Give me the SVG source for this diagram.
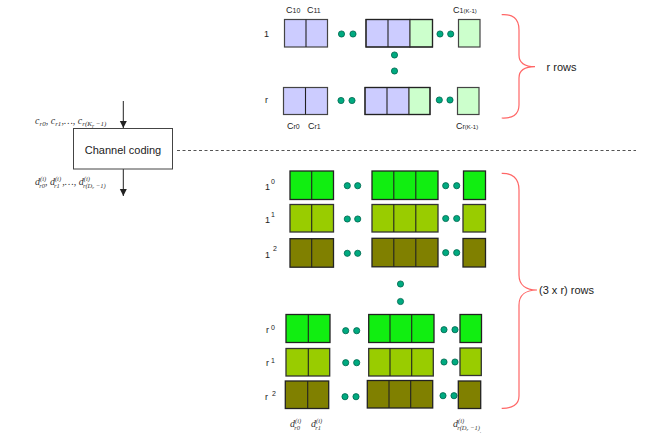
<svg xmlns="http://www.w3.org/2000/svg" width="652" height="443" viewBox="0 0 652 443">
<defs>
<style>
.lav{fill:#CCCCFF;stroke:#444;stroke-width:1.2}
.lg{fill:#CCFFCC;stroke:#444;stroke-width:1.2}
.g0{fill:#11EE11;stroke:#222;stroke-width:1.3}
.g1{fill:#99CC00;stroke:#333;stroke-width:1.3}
.g2{fill:#808000;stroke:#222;stroke-width:1.3}
.div{stroke:#222;stroke-width:1.1}
.dot{fill:#00AA80;stroke:#00664D;stroke-width:0.8}
.lbl{font-family:"Liberation Sans",Arial,sans-serif;font-size:9px;fill:#222}
.math{font-family:"Liberation Serif","Times New Roman",serif;font-style:italic;font-size:10px;fill:#333}
.brace{fill:none;stroke:#FF6666;stroke-width:1.2}
.txt{font-family:"Liberation Sans",Arial,sans-serif;font-size:11px;fill:#222}
.conn{stroke:#222;stroke-width:1;fill:none}
</style>
<marker id="ah" markerWidth="8" markerHeight="8" refX="7" refY="4" orient="auto" markerUnits="userSpaceOnUse">
<path d="M0,0.5 L7,4 L0,7.5 Z" fill="#222"/>
</marker>
<circle id="d" r="3.1" class="dot"/>
</defs>
<rect width="652" height="443" fill="#fff"/>

<g id="connectors">
<line class="conn" x1="123.3" y1="101" x2="123.3" y2="128" marker-end="url(#ah)"/>
<line class="conn" x1="123.3" y1="169" x2="123.3" y2="196" marker-end="url(#ah)"/>
<line x1="177" y1="150.5" x2="636" y2="150.5" stroke="#555" stroke-width="1" stroke-dasharray="3,2.5"/>
</g>

<g id="channel-coding">
<rect x="73.5" y="128.5" width="99" height="40.5" fill="#fff" stroke="#444" stroke-width="1"/>
<text class="txt" x="123" y="154" text-anchor="middle">Channel coding</text>
</g>

<g id="input-label">
<text class="math" x="35" y="124">c<tspan font-size="7" dy="2">r0</tspan><tspan dy="-2">, c</tspan><tspan font-size="7" dy="2">r1</tspan><tspan dy="-2">,…, c</tspan><tspan font-size="7" dy="2">r(K</tspan><tspan font-size="5.5" dy="1.5">r</tspan><tspan font-size="7" dy="-1.5"> −1)</tspan></text>
</g>

<g id="output-label">
<text class="math" x="35" y="185">d<tspan font-size="6.5" dy="-4.5">(i)</tspan><tspan font-size="6.5" dx="-7" dy="7">r0</tspan><tspan dy="-2.5">, d</tspan><tspan font-size="6.5" dy="-4.5">(i)</tspan><tspan font-size="6.5" dx="-7" dy="7">r1</tspan><tspan dy="-2.5"> ,…, d</tspan><tspan font-size="6.5" dy="-4.5">(i)</tspan><tspan font-size="6.5" dx="-7" dy="7">r(D</tspan><tspan font-size="5" dy="1">r</tspan><tspan font-size="6.5" dy="-1"> −1)</tspan></text>
</g>

<!-- Top section -->
<g id="row-1">
<text class="lbl" x="264" y="37" font-size="8">1</text>
<text class="lbl" x="286" y="13">C<tspan font-size="7">10</tspan></text>
<text class="lbl" x="307" y="13">C<tspan font-size="7">11</tspan></text>
<text class="lbl" x="453" y="13">C<tspan font-size="7">1</tspan><tspan font-size="6">(K-1)</tspan></text>
<rect class="lav" x="284.5" y="19.5" width="43" height="27.5"/>
<line class="div" x1="306" y1="19.5" x2="306" y2="47"/>
<use href="#d" x="341.5" y="34"/><use href="#d" x="353" y="34"/>
<rect class="lav" x="366" y="19.5" width="44" height="27.5"/>
<line class="div" x1="388" y1="19.5" x2="388" y2="47"/>
<rect class="lg" x="410" y="19.5" width="22.5" height="27.5"/>
<rect x="366" y="19.5" width="66.5" height="27.5" fill="none" stroke="#222" stroke-width="1.2"/>
<use href="#d" x="440" y="34"/><use href="#d" x="450.7" y="34"/>
<rect class="lg" x="458.5" y="19.5" width="21.5" height="27.5"/>
</g>

<g id="vdots-top">
<use href="#d" x="394.5" y="55"/><use href="#d" x="394.5" y="71"/>
</g>

<g id="row-r">
<text class="lbl" x="265" y="103" font-size="8">r</text>
<rect class="lav" x="283.5" y="87.5" width="44" height="27"/>
<line class="div" x1="305.5" y1="87.5" x2="305.5" y2="114.5"/>
<use href="#d" x="341" y="100.5"/><use href="#d" x="352" y="100.5"/>
<rect class="lav" x="365" y="87.5" width="44" height="27"/>
<line class="div" x1="387" y1="87.5" x2="387" y2="114.5"/>
<rect class="lg" x="409" y="87.5" width="21" height="27"/>
<rect x="365" y="87.5" width="65" height="27" fill="none" stroke="#222" stroke-width="1.2"/>
<use href="#d" x="439.3" y="100"/><use href="#d" x="450" y="100"/>
<rect class="lg" x="457.5" y="87.5" width="21.5" height="27"/>
<text class="lbl" x="287" y="129">C<tspan font-size="7">r0</tspan></text>
<text class="lbl" x="308" y="129">C<tspan font-size="7">r1</tspan></text>
<text class="lbl" x="456" y="129">C<tspan font-size="7">r</tspan><tspan font-size="6">(K-1)</tspan></text>
</g>

<g id="brace-r-rows">
<path class="brace" d="M501.7,14.7 C512,14 519,18 519,30 L519,55 C519,63 525,66.7 535,66.7 C525,66.7 519,70 519,78 L519,105 C519,115 512,118.5 501.7,118"/>
<text class="txt" x="546.5" y="71">r rows</text>
</g>

<!-- Bottom section -->
<g id="row-1-0">
<text class="lbl" x="265" y="190" font-size="8">1<tspan font-size="7" dy="-6" dx="1">0</tspan></text>
<rect class="g0" x="290" y="171" width="43.5" height="28.5"/>
<line class="div" x1="311.7" y1="171" x2="311.7" y2="199.5"/>
<use href="#d" x="347.3" y="185.7"/><use href="#d" x="357.7" y="185.7"/>
<rect class="g0" x="372" y="171" width="66" height="28.5"/>
<line class="div" x1="393.8" y1="171" x2="393.8" y2="199.5"/>
<line class="div" x1="415.8" y1="171" x2="415.8" y2="199.5"/>
<use href="#d" x="445.7" y="185.7"/><use href="#d" x="456.7" y="185.7"/>
<rect class="g0" x="463.5" y="171" width="22" height="28.5"/>
</g>

<g id="row-1-1">
<text class="lbl" x="265" y="223" font-size="8">1<tspan font-size="7" dy="-6" dx="1">1</tspan></text>
<rect class="g1" x="290" y="204.5" width="43.5" height="27.5"/>
<line class="div" x1="311.7" y1="204.5" x2="311.7" y2="232"/>
<use href="#d" x="347.3" y="219"/><use href="#d" x="357.7" y="219"/>
<rect class="g1" x="372" y="204.5" width="66" height="27.5"/>
<line class="div" x1="393.8" y1="204.5" x2="393.8" y2="232"/>
<line class="div" x1="415.8" y1="204.5" x2="415.8" y2="232"/>
<use href="#d" x="445.7" y="218.5"/><use href="#d" x="456.7" y="218.5"/>
<rect class="g1" x="463" y="204.5" width="22.5" height="27.5"/>
</g>

<g id="row-1-2">
<text class="lbl" x="265" y="258" font-size="8">1<tspan font-size="7" dy="-7" dx="3">2</tspan></text>
<rect class="g2" x="290" y="238.7" width="43.5" height="28.5"/>
<line class="div" x1="311.7" y1="238.7" x2="311.7" y2="267.2"/>
<use href="#d" x="347.3" y="253.3"/><use href="#d" x="357.7" y="253.3"/>
<rect class="g2" x="372" y="238.3" width="66" height="28.5"/>
<line class="div" x1="393.8" y1="238.3" x2="393.8" y2="266.8"/>
<line class="div" x1="415.8" y1="238.3" x2="415.8" y2="266.8"/>
<use href="#d" x="445.7" y="252.7"/><use href="#d" x="456.7" y="252.7"/>
<rect class="g2" x="463" y="238.5" width="22.5" height="28.5"/>
</g>

<g id="vdots-bottom">
<use href="#d" x="400.5" y="284"/><use href="#d" x="400.5" y="301.5"/>
</g>

<g id="row-r-0">
<text class="lbl" x="266" y="333" font-size="8">r<tspan font-size="7" dy="-3" dx="2">0</tspan></text>
<rect class="g0" x="286" y="314.5" width="44" height="28"/>
<line class="div" x1="308.3" y1="314.5" x2="308.3" y2="342.5"/>
<use href="#d" x="345.7" y="330.7"/><use href="#d" x="356.7" y="330.7"/>
<rect class="g0" x="368.7" y="314.5" width="65.3" height="28"/>
<line class="div" x1="390" y1="314.5" x2="390" y2="342.5"/>
<line class="div" x1="411.7" y1="314.5" x2="411.7" y2="342.5"/>
<use href="#d" x="444" y="329.7"/><use href="#d" x="455" y="329.7"/>
<rect class="g0" x="460" y="314.5" width="21.5" height="28"/>
</g>

<g id="row-r-1">
<text class="lbl" x="266" y="366" font-size="8">r<tspan font-size="7" dy="-3" dx="2">1</tspan></text>
<rect class="g1" x="286" y="348.5" width="43.7" height="27.5"/>
<line class="div" x1="308.3" y1="348.5" x2="308.3" y2="376"/>
<use href="#d" x="345.7" y="362.7"/><use href="#d" x="356.7" y="362.7"/>
<rect class="g1" x="368.7" y="348.5" width="64.6" height="27.5"/>
<line class="div" x1="390" y1="348.5" x2="390" y2="376"/>
<line class="div" x1="411.7" y1="348.5" x2="411.7" y2="376"/>
<use href="#d" x="444" y="362"/><use href="#d" x="455" y="362"/>
<rect class="g1" x="460" y="348" width="21.3" height="27.5"/>
</g>

<g id="row-r-2">
<text class="lbl" x="265" y="400" font-size="8">r<tspan font-size="7" dy="-4" dx="4">2</tspan></text>
<rect class="g2" x="285.3" y="381" width="43.4" height="27.5"/>
<line class="div" x1="307.7" y1="381" x2="307.7" y2="408.5"/>
<use href="#d" x="345" y="396.7"/><use href="#d" x="356" y="396.7"/>
<rect class="g2" x="367.3" y="380.5" width="65.4" height="27.5"/>
<line class="div" x1="389" y1="380.5" x2="389" y2="408"/>
<line class="div" x1="410.7" y1="380.5" x2="410.7" y2="408"/>
<use href="#d" x="443" y="395.7"/><use href="#d" x="454" y="395.7"/>
<rect class="g2" x="458.3" y="381" width="22.4" height="27.5"/>
</g>

<g id="bottom-labels">
<text class="math" x="290" y="427">d<tspan font-size="6.5" dy="-4.5">(i)</tspan><tspan font-size="6.5" dx="-7" dy="7">r0</tspan></text>
<text class="math" x="311" y="427">d<tspan font-size="6.5" dy="-4.5">(i)</tspan><tspan font-size="6.5" dx="-7" dy="7">r1</tspan></text>
<text class="math" x="453" y="427">d<tspan font-size="6.5" dy="-4.5">(i)</tspan><tspan font-size="6.5" dx="-7" dy="7">r(D</tspan><tspan font-size="5" dy="1">r</tspan><tspan font-size="6.5" dy="-1"> −1)</tspan><tspan font-size="4" dy="2">,</tspan></text>
</g>

<g id="brace-3r-rows">
<path class="brace" d="M501.7,173.3 C512,173 519,178 519,190 L519,275 C519,285 526,290 537,290 C526,290 519,295 519,305 L519,396 C519,405 512,408.5 501.7,408.3"/>
<text class="txt" x="539" y="294">(3 x r) rows</text>
</g>
</svg>
